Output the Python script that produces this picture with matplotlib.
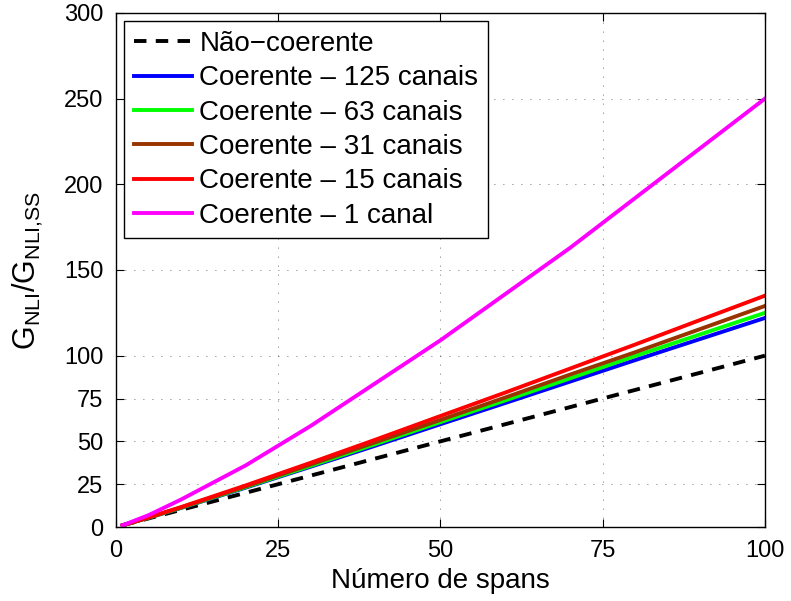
import numpy as np
import matplotlib.pyplot as plt

plt.rcParams['font.family'] = ['Liberation Sans', 'DejaVu Sans']
plt.rcParams['mathtext.fontset'] = 'custom'
plt.rcParams['mathtext.rm'] = 'Liberation Sans'
plt.rcParams['mathtext.it'] = 'Liberation Sans'

# number of spans
spans = [1, 5, 10, 20, 30, 40, 50, 60, 70, 80, 90, 100]

# G_NLI / G_NLI,SS
nao_coerente = [1, 5, 10, 20, 30, 40, 50, 60, 70, 80, 90, 100]
coer_125 = [1, 5.4, 11.1, 23.0, 35.2, 47.5, 60.0, 72.4, 84.9, 97.4, 109.7, 122]
coer_63 = [1, 5.4, 11.2, 23.3, 35.7, 48.4, 61.2, 73.9, 86.8, 99.8, 112.4, 125]
coer_31 = [1, 5.5, 11.4, 23.7, 36.5, 49.5, 62.5, 75.6, 89.0, 102.0, 115.5, 129]
coer_15 = [1, 5.6, 11.6, 24.3, 37.5, 51.0, 64.8, 78.5, 92.5, 106.5, 120.8, 135]
coer_1 = [1, 6.9, 16, 36, 59, 84, 109, 136, 163, 192, 221, 250]

labels = ['Não\u2212coerente', 'Coerente \u2013 125 canais', 'Coerente \u2013 63 canais',
          'Coerente \u2013 31 canais', 'Coerente \u2013 15 canais', 'Coerente \u2013 1 canal']
colors = ['k', '#0000ff', '#00ff00', '#993300', '#ff0000', '#ff00ff']

xticks = [0, 25, 50, 75, 100]
yticks = [0, 25, 50, 75, 100, 150, 200, 250, 300]

fig = plt.figure(figsize=(7.91, 6.01), dpi=100)
ax = fig.add_axes([0.1467, 0.1231, 0.8203, 0.8553])

ax.plot(spans, nao_coerente, color=colors[0], lw=2.8, ls=(0, (3.2, 2.4)), label=labels[0])
series = [coer_125, coer_63, coer_31, coer_15, coer_1]
for s, c, lab in zip(series, colors[1:], labels[1:]):
    ax.plot(spans, s, color=c, lw=2.8, label=lab)

ax.set_xlim(0, 100)
ax.set_ylim(0, 300)
ax.set_xticks(xticks)
ax.set_yticks(yticks)
ax.tick_params(direction='in', top=True, right=True, labelsize=17, length=6, width=0.8, pad=9)
ax.grid(True, color='0.25', lw=0.6, ls=(0, (1, 9.8)))
for sp in ax.spines.values():
    sp.set_linewidth(1.0)

ax.set_xlabel('Número de spans', fontsize=20, labelpad=5)
ax.set_ylabel(r'$\mathregular{G_{NLI}/G_{NLI{,}SS}}$', fontsize=22, labelpad=14)

leg = ax.legend(loc='upper left', fontsize=20, handlelength=2.1, handletextpad=0.25,
                labelspacing=0.3, borderpad=0.35, borderaxespad=0.3, fancybox=False,
                framealpha=1, edgecolor='k')
leg.get_frame().set_linewidth(1.0)

fig.savefig('out.png', dpi=100)
